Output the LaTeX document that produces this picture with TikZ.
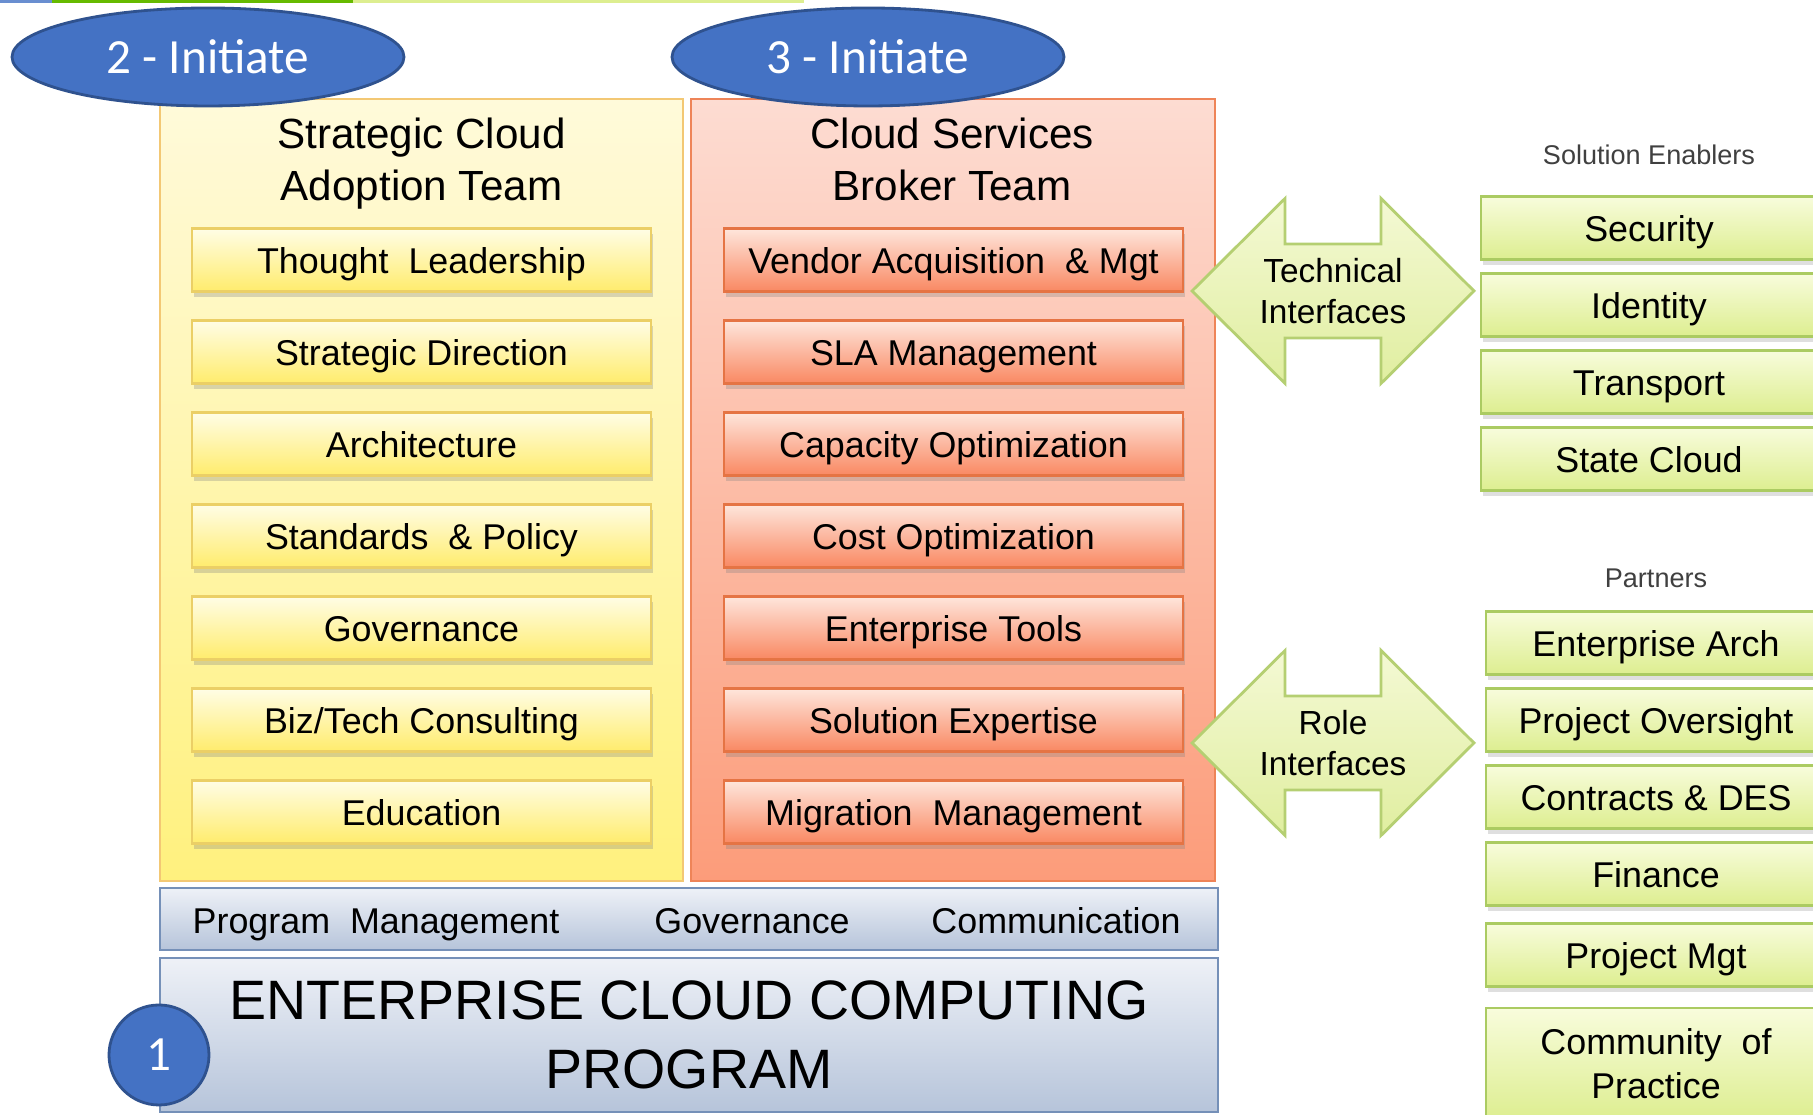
\documentclass[tikz,border=0pt]{standalone}
\usepackage{fontspec}
\setmainfont{Liberation Sans}
\newfontfamily\calibri{Carlito}
\usepackage{tikz}
\usetikzlibrary{positioning, shapes.geometric, shadows, calc}

\definecolor{phaseblue}{HTML}{4472C4}
\definecolor{phaseline}{HTML}{2F528F}
\definecolor{adopttop}{HTML}{FFFADA}
\definecolor{adoptbot}{HTML}{FFF17E}
\definecolor{adoptline}{HTML}{F3C874}
\definecolor{yitemtop}{HTML}{FFFDE6}
\definecolor{yitembot}{HTML}{FFEC6C}
\definecolor{yitemline}{HTML}{EBCF66}
\definecolor{brokertop}{HTML}{FDDCD2}
\definecolor{brokerbot}{HTML}{FC9C7A}
\definecolor{brokerline}{HTML}{EE8458}
\definecolor{ritemtop}{HTML}{FEE6DC}
\definecolor{ritembot}{HTML}{F98862}
\definecolor{ritemline}{HTML}{E57444}
\definecolor{progtop}{HTML}{EEF1F7}
\definecolor{progbot}{HTML}{B6C4DA}
\definecolor{progline}{HTML}{7590B8}
\definecolor{greentop}{HTML}{F8FCDC}
\definecolor{greenbot}{HTML}{DDEE90}
\definecolor{greenline}{HTML}{ABCB62}
\definecolor{ifacetop}{HTML}{F4F9D4}
\definecolor{ifacebot}{HTML}{E0EEA0}
\definecolor{ifaceline}{HTML}{B5CF72}

\begin{document}
\begin{tikzpicture}[
    phase/.style={ellipse, draw=phaseline, line width=0.8pt, fill=phaseblue,
                  minimum width=3.92cm, minimum height=0.98cm, inner sep=0pt,
                  text=white, font=\calibri\fontsize{14}{16}\selectfont},
    adoptpanel/.style={rectangle, draw=adoptline, line width=0.8pt, top color=adopttop,
                       bottom color=adoptbot, minimum width=5.23cm, minimum height=7.82cm},
    brokerpanel/.style={rectangle, draw=brokerline, line width=0.8pt, top color=brokertop,
                        bottom color=brokerbot, minimum width=5.24cm, minimum height=7.82cm},
    teamtitle/.style={font=\fontsize{12}{14.8}\selectfont, align=center},
    oneline/.style={text height=0.75em, text depth=0pt},
    adoptitem/.style={rectangle, draw=yitemline, line width=0.7pt, top color=yitemtop,
                      bottom color=yitembot, minimum width=4.59cm, minimum height=0.63cm,
                      font=\fontsize{10.2}{12}\selectfont, oneline,
                      drop shadow={shadow xshift=0.5pt, shadow yshift=-1.5pt, opacity=0.3}},
    brokeritem/.style={adoptitem, draw=ritemline, top color=ritemtop, bottom color=ritembot},
    progbox/.style={rectangle, draw=progline, line width=0.8pt, top color=progtop,
                    bottom color=progbot, minimum width=10.58cm},
    progtext/.style={font=\fontsize{10.2}{12}\selectfont, oneline},
    greenbox/.style={rectangle, draw=greenline, line width=0.7pt, top color=greentop,
                     bottom color=greenbot, minimum height=0.63cm, align=center,
                     font=\fontsize{10.2}{12.5}\selectfont,
                     drop shadow={shadow xshift=0.5pt, shadow yshift=-1.5pt, opacity=0.25}},
    enabler/.style={greenbox, oneline},
    grouplabel/.style={text=black!75, font=\fontsize{7.7}{9}\selectfont},
    iface/.style={draw=ifaceline, line width=0.8pt, top color=ifacetop, bottom color=ifacebot},
    ifacetext/.style={align=center, font=\fontsize{9.5}{11.7}\selectfont}
]
    \useasboundingbox (0,0) rectangle (18.13,11.15);
    \clip (0,0) rectangle (18.13,11.15);
    \fill[white] (0,0) rectangle (18.13,11.15);

    % Top strip
    \fill[phaseblue!80] (0,11.12) rectangle (0.52,11.15);
    \fill[green!55!black!60!yellow] (0.52,11.12) rectangle (3.53,11.15);
    \fill[greenbot] (3.53,11.12) rectangle (8.04,11.15);

    % Team panels
    \node[adoptpanel] (adopt) at (4.215, 6.25) {};
    \node[brokerpanel] (broker) at (9.53, 6.25) {};
    \node[teamtitle] (adopttitle) at (4.215, 9.515) {Strategic Cloud\\Adoption Team};
    \node[teamtitle] (brokertitle) at (9.52, 9.56) {Cloud Services\\Broker Team};

    % Adoption team functions
    \node[adoptitem] (thought) at (4.215, 8.55) {Thought\ \ Leadership};
    \node[adoptitem] (direction) at (4.215, 7.63) {Strategic Direction};
    \node[adoptitem] (arch) at (4.215, 6.71) {Architecture};
    \node[adoptitem] (standards) at (4.215, 5.79) {Standards\ \ \& Policy};
    \node[adoptitem] (govern) at (4.215, 4.87) {Governance};
    \node[adoptitem] (consult) at (4.215, 3.95) {Biz/Tech Consulting};
    \node[adoptitem] (educate) at (4.215, 3.03) {Education};

    % Broker team functions
    \node[brokeritem] (vendor) at (9.535, 8.55) {Vendor Acquisition\ \ \&\ Mgt};
    \node[brokeritem] (sla) at (9.535, 7.63) {SLA Management};
    \node[brokeritem] (capacity) at (9.535, 6.71) {Capacity Optimization};
    \node[brokeritem] (cost) at (9.535, 5.79) {Cost Optimization};
    \node[brokeritem] (tools) at (9.535, 4.87) {Enterprise Tools};
    \node[brokeritem] (expertise) at (9.535, 3.95) {Solution Expertise};
    \node[brokeritem] (migration) at (9.535, 3.03) {Migration\ \ Management};

    % Program foundation
    \node[progbox, minimum height=0.62cm] (pmbar) at (6.89, 1.96) {};
    \node[progtext] (pmtext) at (3.76, 1.95) {Program\ \ Management};
    \node[progtext] (govtext) at (7.52, 1.95) {Governance};
    \node[progtext] (commtext) at (10.56, 1.95) {Communication};
    \node[progbox, minimum height=1.54cm, align=center,
          font=\fontsize{15.8}{19.6}\selectfont] (program) at (6.89, 0.80)
          {ENTERPRISE CLOUD COMPUTING\\PROGRAM};

    % Phase ovals
    \node[phase] (init2) at (2.08, 10.58) {2 - Initiate};
    \node[phase] (init3) at (8.68, 10.58) {3 - Initiate};
    \node[phase, circle, minimum width=1.0cm, minimum height=1.0cm] (start) at (1.59, 0.60) {1};

    % Interface arrows
    \coordinate (techc) at (13.33, 8.24);
    \coordinate (rolec) at (13.33, 3.72);
    \path[iface] ($(techc)+(-1.41,0)$) -- ++(0.93,0.925) -- ++(0,-0.455) -- ++(0.96,0)
        -- ++(0,0.455) -- ++(0.93,-0.925) -- ++(-0.93,-0.925) -- ++(0,0.455)
        -- ++(-0.96,0) -- ++(0,-0.455) -- cycle;
    \path[iface] ($(rolec)+(-1.41,0)$) -- ++(0.93,0.925) -- ++(0,-0.455) -- ++(0.96,0)
        -- ++(0,0.455) -- ++(0.93,-0.925) -- ++(-0.93,-0.925) -- ++(0,0.455)
        -- ++(-0.96,0) -- ++(0,-0.455) -- cycle;
    \node[ifacetext] (techtext) at (techc) {Technical\\Interfaces};
    \node[ifacetext] (roletext) at (rolec) {Role\\Interfaces};

    % Solution enablers
    \node[grouplabel] (enablers) at (16.49, 9.60) {Solution Enablers};
    \node[enabler, minimum width=3.36cm] (security) at (16.49, 8.87) {Security};
    \node[enabler, minimum width=3.36cm] (identity) at (16.49, 8.10) {Identity};
    \node[enabler, minimum width=3.36cm] (transport) at (16.49, 7.33) {Transport};
    \node[enabler, minimum width=3.36cm] (statecloud) at (16.49, 6.56) {State Cloud};

    % Partners
    \node[grouplabel] (partners) at (16.56, 5.37) {Partners};
    \node[enabler, minimum width=3.40cm] (entarch) at (16.56, 4.72) {Enterprise Arch};
    \node[enabler, minimum width=3.40cm] (oversight) at (16.56, 3.95) {Project Oversight};
    \node[enabler, minimum width=3.40cm] (contracts) at (16.56, 3.18) {Contracts \& DES};
    \node[enabler, minimum width=3.40cm] (finance) at (16.56, 2.41) {Finance};
    \node[enabler, minimum width=3.40cm] (projmgt) at (16.56, 1.60) {Project Mgt};
    \node[greenbox, minimum width=3.40cm, minimum height=1.12cm] (community) at (16.56, 0.51)
          {Community\ \ of\\Practice};
\end{tikzpicture}
\end{document}
